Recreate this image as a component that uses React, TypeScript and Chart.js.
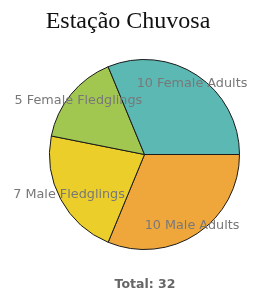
import React, { useEffect, useRef } from "react";
import { Chart, registerables } from "chart.js";

Chart.register(...registerables);

const TITLE = "Estação Chuvosa";
const categories = ["Male Adults", "Male Fledglings", "Female Fledglings", "Female Adults"];
const counts = [10, 7, 5, 10];
const colors = ["#efa73c", "#ecce2a", "#a2c751", "#5bb8b3"];

export default function App() {
  const ref = useRef<HTMLCanvasElement | null>(null);
  useEffect(() => {
    document.body.style.margin = "0";
    const total = counts.reduce((a, b) => a + b, 0);
    const textPlugin = {
      id: "texts",
      afterDatasetsDraw(chart: any) {
        const ctx = chart.ctx;
        const meta = chart.getDatasetMeta(0);
        ctx.save();
        ctx.font = "12.8px 'DejaVu Sans'";
        ctx.fillStyle = "#787878";
        ctx.textAlign = "center";
        ctx.textBaseline = "middle";
        meta.data.forEach((arc: any, i: number) => {
          const p = arc.getProps(["x", "y", "startAngle", "endAngle", "outerRadius"], true);
          const mid = (p.startAngle + p.endAngle) / 2;
          const d = p.outerRadius * 0.9;
          ctx.fillText(`${counts[i]} ${categories[i]}`, p.x + Math.cos(mid) * d, p.y + Math.sin(mid) * d);
        });
        ctx.fillStyle = "#111";
        ctx.font = "24px 'Liberation Serif'";
        ctx.textBaseline = "alphabetic";
        ctx.fillText(TITLE, 128, 28);
        ctx.fillStyle = "#666";
        ctx.font = "bold 12.5px 'DejaVu Sans'";
        ctx.textBaseline = "middle";
        ctx.fillText(`Total: ${total}`, 145, 285);
        ctx.restore();
      },
    };
    const chart = new Chart(ref.current as HTMLCanvasElement, {
      type: "pie",
      data: {
        labels: categories,
        datasets: [
          {
            data: counts,
            backgroundColor: colors,
            borderColor: "#1a1a1a",
            borderWidth: 1,
          },
        ],
      },
      options: {
        animation: false,
        responsive: false,
        rotation: 90,
        layout: { padding: { left: 49, right: 13, top: 59, bottom: 45 } },
        plugins: { legend: { display: false }, tooltip: { enabled: false }, title: { display: false } },
      },
      plugins: [textPlugin],
    });
    return () => chart.destroy();
  }, []);
  return (
    <div style={{ width: 253, height: 295, background: "#fff" }}>
      <canvas ref={ref} width={253} height={295} style={{ width: 253, height: 295, display: "block" }} />
    </div>
  );
}
